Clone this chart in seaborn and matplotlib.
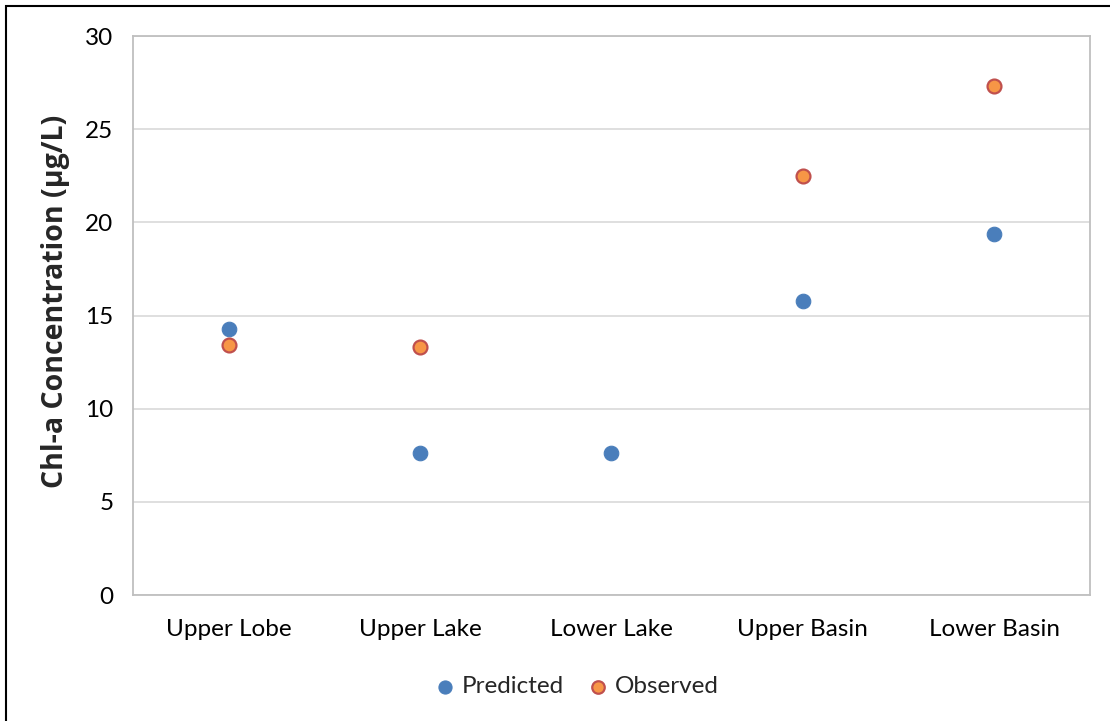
import matplotlib
matplotlib.use("Agg")
import matplotlib.pyplot as plt
import seaborn as sns
import pandas as pd
from matplotlib.patches import Rectangle

sites = ["Upper Lobe", "Upper Lake", "Lower Lake", "Upper Basin", "Lower Basin"]
predicted = [14.3, 7.6, 7.6, 15.8, 19.35]
observed_sites = ["Upper Lobe", "Upper Lake", "Upper Basin", "Lower Basin"]
observed = [13.4, 13.3, 22.5, 27.3]
yticks = [0, 5, 10, 15, 20, 25, 30]

sns.set_theme(style="white")
plt.rcParams['font.family'] = ['Lato', 'DejaVu Sans']

fig = plt.figure(figsize=(11.1, 7.21), dpi=100)
ax = fig.add_axes([0.1198, 0.1747, 0.8622, 0.7753])

df_pred = pd.DataFrame({"site": sites, "value": predicted})
df_obs = pd.DataFrame({"site": observed_sites, "value": observed})

sns.scatterplot(data=df_pred, x="site", y="value", ax=ax, s=110, color="#4A7EBB",
                edgecolor="#4A7EBB", linewidth=0.8, label="Predicted", zorder=3)
sns.scatterplot(data=df_obs, x="site", y="value", ax=ax, s=100, color="#F79646",
                edgecolor="#C0504D", linewidth=1.6, label="Observed", zorder=3)

ax.set_xlim(-0.5, 4.5)
ax.set_ylim(0, 30)
ax.set_yticks(yticks)
ax.set_yticklabels([str(v) for v in yticks])
ax.yaxis.grid(True, color="#D9D9D9", linewidth=1.2)
ax.xaxis.grid(False)
ax.set_axisbelow(True)
for sp in ax.spines.values():
    sp.set_visible(True)
    sp.set_color("#BFBFBF")
    sp.set_linewidth(1.3)
ax.tick_params(axis="both", length=0, labelsize=17.5, colors="black")
ax.tick_params(axis="x", pad=17)
ax.tick_params(axis="y", pad=14)
ax.set_xlabel("")
ax.set_ylabel("Chl-a Concentration (µg/L)", fontsize=20.5, fontweight="bold",
              family=["Open Sans", "DejaVu Sans"])
ax.yaxis.set_label_coords(-0.066, 0.525)

ax.legend(loc="center", bbox_to_anchor=(0.513, 0.048), bbox_transform=fig.transFigure,
          ncol=2, frameon=False, fontsize=17.5, handletextpad=-0.3, columnspacing=0.4,
          markerscale=0.9)

fig.patches.append(Rectangle((6 / 1110, -0.05), 1.1, 1 - 6 / 721 + 0.05,
                             transform=fig.transFigure, fill=False,
                             edgecolor="black", linewidth=1.5, zorder=10))

fig.savefig("out.png", dpi=100)
